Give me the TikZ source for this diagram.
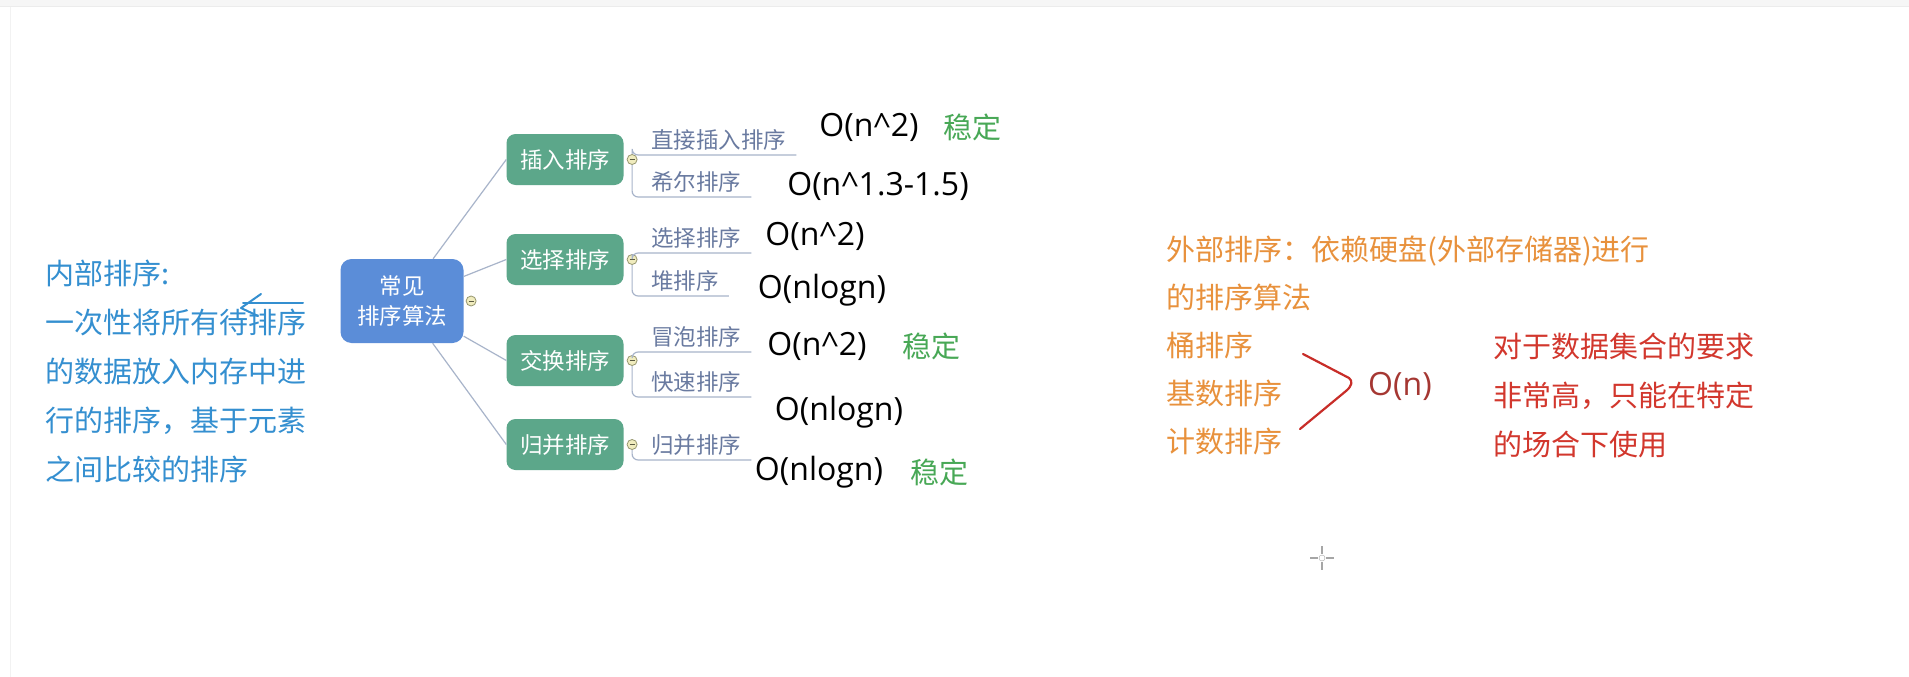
\documentclass[tikz,border=0pt]{standalone}
\usepackage{fontspec}
\usepackage{tikz}
\usetikzlibrary{positioning}
\newfontfamily\cjk{Noto Sans CJK SC}
\newfontfamily\latin{Open Sans}
\definecolor{rootblue}{RGB}{91,141,216}
\definecolor{branchgreen}{RGB}{92,167,138}
\definecolor{leafgray}{RGB}{105,122,160}
\definecolor{linegray}{RGB}{168,180,202}
\definecolor{foldline}{RGB}{150,150,110}
\definecolor{foldfill}{RGB}{240,236,190}
\definecolor{notegreen}{RGB}{72,168,86}
\definecolor{noteblue}{RGB}{52,143,208}
\definecolor{noteorange}{RGB}{232,145,60}
\definecolor{notered}{RGB}{210,55,45}
\definecolor{markred}{RGB}{200,45,40}
\definecolor{ondark}{RGB}{165,55,50}

\begin{document}
\begin{tikzpicture}
[x=1pt,y=-1pt,
 root/.style={shape=rectangle,rounded corners=11pt,fill=rootblue,text=white,
   minimum width=123pt,minimum height=84pt,align=center,
   font=\cjk\fontsize{22.5}{30}\selectfont},
 branch/.style={shape=rectangle,rounded corners=9pt,fill=branchgreen,text=white,
   minimum width=117pt,minimum height=51pt,font=\cjk\fontsize{22.5}{27}\selectfont},
 leaf/.style={anchor=south west,inner xsep=10pt,inner ysep=4pt,text=leafgray,
   font=\cjk\fontsize{22.5}{27}\selectfont},
 fold/.style={shape=circle,draw=foldline,fill=foldfill,line width=0.8pt,
   minimum size=10pt,inner sep=0pt,
   path picture={\draw[foldline!60!black,line width=1pt]
     ([xshift=2.5pt]path picture bounding box.west) --
     ([xshift=-2.5pt]path picture bounding box.east);}},
 link/.style={draw=linegray,line width=1.2pt},
 twig/.style={draw=linegray,line width=1.2pt,rounded corners=6pt},
 cost/.style={inner sep=0pt,text=black,font=\latin\fontsize{32}{38}\selectfont},
 stable/.style={inner sep=0pt,text=notegreen,font=\cjk\fontsize{29}{36}\selectfont},
 note/.style={anchor=north west,inner sep=0pt,align=left,
   font=\cjk\fontsize{29}{49}\selectfont},
 scribble/.style={line width=2.2pt,line cap=round,line join=round}]
\useasboundingbox (0,0) rectangle (1909,677);
\fill[white] (0,0) rectangle (1909,677);
\fill[gray!7] (0,0) rectangle (1909,7);
\draw[gray!15,line width=1pt] (0,7) -- (1909,7);
\draw[gray!10,line width=1pt] (10,7) -- (10,677);

\node[root] (algo) at (402,301) {常见\\排序算法};
\node[fold] (f0) [right=2pt of algo] {};

\node[branch] (insert) at (565,159.5) {插入排序};
\node[branch] (select) at (565,259.5) {选择排序};
\node[branch] (swap) at (565,360.5) {交换排序};
\node[branch] (merge) at (565,444.5) {归并排序};
\node[fold] (f1) [right=3pt of insert] {};
\node[fold] (f2) [right=3pt of select] {};
\node[fold] (f3) [right=3pt of swap] {};
\node[fold] (f4) [right=3pt of merge] {};

\node[leaf] (direct) at (641,155) {直接插入排序};
\node[leaf] (shell) at (641,197) {希尔排序};
\node[leaf] (choose) at (641,253) {选择排序};
\node[leaf] (heap) at (641,296) {堆排序};
\node[leaf] (bubble) at (641,352) {冒泡排序};
\node[leaf] (quick) at (641,397) {快速排序};
\node[leaf] (mergeleaf) at (641,460) {归并排序};

\draw[link] (algo) -- (insert.west);
\draw[link] (algo) -- (select.west);
\draw[link] (algo) -- (swap.west);
\draw[link] (algo) -- (merge.west);
\draw[twig] (f1) |- (direct.south east);
\draw[twig] (f1) |- (shell.south east);
\draw[twig] (f2) |- (choose.south east);
\draw[twig] (f2) |- (heap.south east);
\draw[twig] (f3) |- (bubble.south east);
\draw[twig] (f3) |- (quick.south east);
\draw[twig] (f4) |- (mergeleaf.south east);

\node[cost] (c1) at (869,127) {O(n\textasciicircum2)};
\node[stable] (s1) at (972,127) {稳定};
\node[cost] (c2) at (878,186) {O(n\textasciicircum1.3-1.5)};
\node[cost] (c3) at (815,236) {O(n\textasciicircum2)};
\node[cost] (c4) at (822,290) {O(nlogn)};
\node[cost] (c5) at (817,346) {O(n\textasciicircum2)};
\node[stable] (s5) at (931,346) {稳定};
\node[cost] (c6) at (839,412) {O(nlogn)};
\node[cost] (c7) at (819,472) {O(nlogn)};
\node[stable] (s7) at (939,472) {稳定};

\node[note,text=noteblue] (inner) at (45,260)
  {内部排序:\\一次性将所有待排序\\的数据放入内存中进\\行的排序，基于元素\\之间比较的排序};
\draw[scribble,noteblue,line width=2pt] (261,294) -- (241,308) -- (258,316);
\draw[scribble,noteblue,line width=2pt] (243,303) -- (303,303);

\node[note,text=noteorange,font=\cjk\fontsize{29}{48}\selectfont] (outer) at (1166,236)
  {外部排序：依赖硬盘(外部存储器)进行\\的排序算法\\桶排序\\基数排序\\计数排序};
\draw[scribble,markred] (1303,354) -- (1349,378)
  .. controls (1353,381) and (1352,386) .. (1346,391) -- (1300,429);
\node[cost,text=ondark,anchor=west] (linear) at (1368,386) {O(n)};
\node[note,text=notered] (limit) at (1493,333)
  {对于数据集合的要求\\非常高，只能在特定\\的场合下使用};

\draw[gray!70,line width=1.5pt] (1310,558) -- (1318,558) (1326,558) -- (1334,558)
  (1322,546) -- (1322,554) (1322,562) -- (1322,570);
\draw[gray!70] (1322,558) circle (3pt);
\end{tikzpicture}
\end{document}
